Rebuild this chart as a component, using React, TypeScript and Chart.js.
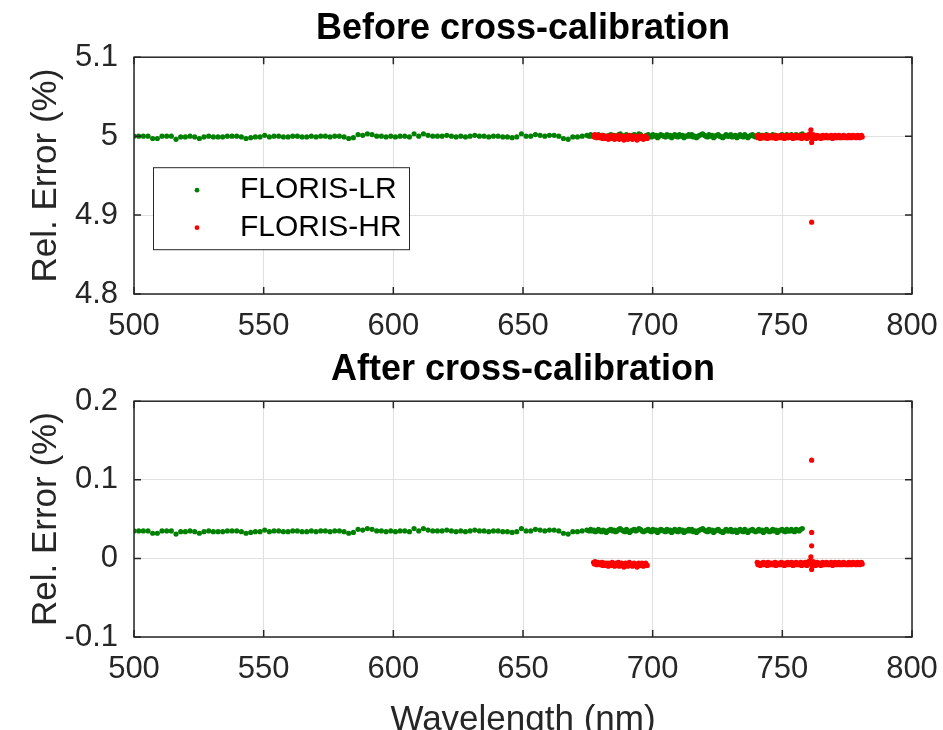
import { useEffect, useRef } from "react";
import { Chart, registerables } from "chart.js";

Chart.register(...registerables);

const FONT = '"Liberation Sans", Arial, Helvetica, sans-serif';
const AXIS_COLOR = "#262626";
const GRID_COLOR = "#e0e0e0";
const LR_COLOR = "#008000";
const HR_COLOR = "#ff0000";

// Axis ticks
const xTicks = [500, 550, 600, 650, 700, 750, 800];
const yTicksBefore = [4.8, 4.9, 5, 5.1];
const yTicksAfter = [-0.1, 0, 0.1, 0.2];

// Wavelength sampling of each record (nm)
const lrSparseStart = 500;
const lrSparseStep = 1.8;
const lrDenseStart = 675.5;
const lrDenseStep = 0.6;
const hrAStart = 677.2;
const hrBStart = 740.3;
const hrStep = 0.3;

// Residual deviations per sample, in units of 0.001 %
const lrSparseDev = [
  0, 0, 0, 0, -3, -3, 0, 0, 0, -4,
  -1, -1, 0, -1, -3, -1, 0, -1, -1, -1,
  0, 0, 0, -1, -3, -2, -1, -1, 1, -1,
  0, 0, -1, -1, 0, 0, -1, -1, 0, -1,
  0, 0, -1, 0, 0, -1, -3, -2, 2, 1,
  3, 2, 0, 0, -1, 0, -1, 0, 0, -1,
  3, 0, 3, 1, 0, 0, 0, 1, 0, -1,
  0, -1, 0, 1, 0, 0, -1, 0, 0, -1,
  -1, -2, -1, 3, 0, 0, 2, 1, 0, 1,
  1, 0, -3, -4, -1, -1, 0, 1,
];

const lrDenseDev = [
  0, 2, 0, 1, -1, 0, 2, 0, -1, 1,
  0, -2, 0, 1, 2, 0, 1, -1, 0, 2,
  3, 1, 0, -1, 2, 0, -2, 0, 1, 2,
  0, 1, 3, 2, 0, -1, 0, 1, 2, 0,
  -1, 2, 0, 1, -2, 0, 2, 1, 0, -1,
  2, 0, 1, -2, 0, 2, 0, -1, 2, 0,
  1, -2, 0, 0, 2, 0, 2, -1, 0, -2,
  0, 1, 2, 3, 1, 0, -1, 2, 0, 1,
  -2, 0, 1, 2, 0, -1, -2, 0, 2, 0,
  0, 2, -1, 0, 1, -2, 0, 2, 0, -1,
  2, 0, -2, 0, 1, 2, 0, -1, 0, 2,
  0, 1, -2, 0, 2, 0, -1, 0, 2, 0,
  1, -2, 0, 1, 2, 0, -1, 2, 0, 0,
  2, 0, -1, 2, 1, 0, 2, 3,
];

const hrADev = [
  1, -1, 2, 0, -2, 0, 1, -1, -2, 0,
  -2, 1, -3, -1, 0, -2, -3, 0, -1, -4,
  0, -2, -3, -1, 1, -3, -2, -4, -1, 0,
  -3, -1, 1, -4, -2, -1, 0, -3, -2, -5,
  -1, 0, -3, -2, -4, -3, 1, -1, -3, -2,
  -4, -1, 0, -3, -2, -3, -5, -1, 0, -3,
  -2, -3, 0, -1, -4, -1, -3, 0, -2, -3,
];

const hrBDev = [
  1, -2, 0, -1, -3, -1, 0, -2, 1, -1,
  -2, 0, -1, -3, 1, -1, -2, 0, -1, -2,
  0, -2, -1, 1, -3, -1, 0, -2, -1, 0,
  -2, 1, -1, -2, 0, -3, -1, 0, -2, 1,
  -1, -2, 0, -1, 1, -2, -3, 0, -1, -2,
  1, -1, -2, 0, -1, -2, 1, -3, -1, 0,
  -2, 0, 1, -2, -3, 0, 2, -1, 3, 8,
  -8, -3, 2, -1, 0, -3, -1, 1, -2, -1,
  0, -2, -3, -1, 1, -1, -2, 0, -1, 1,
  -2, -1, 0, -2, -1, 1, -1, -3, 0, -1,
  1, -1, -2, 0, -1, 1, -2, -1, 0, -2,
  -1, 1, -1, 0, -2, -1, 0, -2, 1, -1,
  0, -2, -1, 1, -1, 0, 0, -2, -1, 1,
  -1, 0, -2, 0, 1, -1,
];

// Levels of each record before and after cross-calibration (%)
const lrLevelBefore = 5.0;
const hrLevelBefore = 5.0;
const lrLevelAfter = 0.035;
const hrLevelAfter = -0.006;

// Isolated HR samples at the O2-A line
const hrSpikeWl = 761.3;
const hrSpikeBefore = [4.891];
const hrSpikeAfter = [0.125, 0.033, 0.016];

type Pt = { x: number; y: number };

function toPoints(devs: number[], start: number, step: number, level: number): Pt[] {
  return devs.map((d, i) => ({
    x: +(start + i * step).toFixed(2),
    y: +(level + d / 1000).toFixed(4),
  }));
}

function lrPoints(level: number): Pt[] {
  return [
    ...toPoints(lrSparseDev, lrSparseStart, lrSparseStep, level),
    ...toPoints(lrDenseDev, lrDenseStart, lrDenseStep, level),
  ];
}

function hrPoints(level: number, spikes: number[]): Pt[] {
  return [
    ...toPoints(hrADev, hrAStart, hrStep, level),
    ...toPoints(hrBDev, hrBStart, hrStep, level),
    ...spikes.map((v) => ({ x: hrSpikeWl, y: v })),
  ];
}

// Closed axes box with inward tick marks on all four sides
const framePlugin = {
  id: "frame",
  afterDraw(chart: any) {
    const { ctx, chartArea: a, scales } = chart;
    const len = 7;
    ctx.save();
    ctx.strokeStyle = AXIS_COLOR;
    ctx.lineWidth = 1.5;
    ctx.strokeRect(a.left, a.top, a.right - a.left, a.bottom - a.top);
    ctx.beginPath();
    for (const t of scales.x.ticks) {
      const px = scales.x.getPixelForValue(t.value);
      ctx.moveTo(px, a.bottom);
      ctx.lineTo(px, a.bottom - len);
      ctx.moveTo(px, a.top);
      ctx.lineTo(px, a.top + len);
    }
    for (const t of scales.y.ticks) {
      const py = scales.y.getPixelForValue(t.value);
      ctx.moveTo(a.left, py);
      ctx.lineTo(a.left + len, py);
      ctx.moveTo(a.right, py);
      ctx.lineTo(a.right - len, py);
    }
    ctx.stroke();
    ctx.restore();
  },
};

// Boxed legend inside the axes
const boxLegendPlugin = {
  id: "boxLegend",
  afterDraw(chart: any) {
    const { ctx, chartArea: a } = chart;
    const x = a.left + 19;
    const y = a.top + 110;
    const w = 256;
    const h = 82;
    ctx.save();
    ctx.fillStyle = "#ffffff";
    ctx.fillRect(x, y, w, h);
    ctx.strokeStyle = AXIS_COLOR;
    ctx.lineWidth = 1;
    ctx.strokeRect(x + 0.5, y + 0.5, w, h);
    ctx.font = `30px ${FONT}`;
    ctx.textBaseline = "middle";
    ctx.textAlign = "left";
    chart.data.datasets.forEach((ds: any, i: number) => {
      const ry = y + 23 + i * 37.5;
      ctx.fillStyle = ds.backgroundColor;
      ctx.beginPath();
      ctx.arc(x + 44, ry, 2.4, 0, Math.PI * 2);
      ctx.fill();
      ctx.fillStyle = "#000000";
      ctx.fillText(ds.label, x + 87, ry);
    });
    ctx.restore();
  },
};

type PanelProps = {
  title: string;
  yTicks: number[];
  lr: Pt[];
  hr: Pt[];
  top: number;
  height: number;
  areaBottom: number;
  titlePad: { top: number; bottom: number };
  legend: boolean;
  xTitle: boolean;
};

function Panel(p: PanelProps) {
  const ref = useRef<HTMLCanvasElement | null>(null);

  useEffect(() => {
    if (!ref.current) return;
    const tickFont = { family: FONT, size: 31 };
    const labelFont = { family: FONT, size: 35 };
    const chart = new Chart(ref.current, {
      type: "scatter",
      data: {
        datasets: [
          {
            label: "FLORIS-LR",
            data: p.lr,
            backgroundColor: LR_COLOR,
            borderWidth: 0,
            pointRadius: 2.6,
            pointHoverRadius: 2.6,
            order: 2,
          },
          {
            label: "FLORIS-HR",
            data: p.hr,
            backgroundColor: HR_COLOR,
            borderWidth: 0,
            pointRadius: 2.6,
            pointHoverRadius: 2.6,
            order: 1,
          },
        ],
      },
      options: {
        animation: false,
        responsive: false,
        maintainAspectRatio: false,
        devicePixelRatio: 1,
        events: [],
        layout: { padding: { left: 0, right: 31, top: 0, bottom: 0 } },
        plugins: {
          legend: { display: false },
          tooltip: { enabled: false },
          title: {
            display: true,
            text: p.title,
            fullSize: false,
            color: "#000000",
            font: { family: FONT, size: 36, weight: "bold", lineHeight: 1.2 },
            padding: p.titlePad,
          },
        },
        scales: {
          x: {
            type: "linear",
            position: "bottom",
            min: xTicks[0],
            max: xTicks[xTicks.length - 1],
            afterBuildTicks: (s: any) => {
              s.ticks = xTicks.map((v) => ({ value: v }));
            },
            afterFit: (s: any) => {
              s.height = p.height - p.areaBottom;
              s.paddingLeft = 0;
              s.paddingRight = 0;
            },
            grid: { color: GRID_COLOR, lineWidth: 1, drawTicks: false },
            border: { display: false },
            ticks: {
              font: tickFont,
              color: AXIS_COLOR,
              padding: 14,
              maxRotation: 0,
              autoSkip: false,
              callback: (v: any) => String(v),
            },
            title: {
              display: p.xTitle,
              text: "Wavelength (nm)",
              color: AXIS_COLOR,
              font: labelFont,
              padding: { top: 0, bottom: 3.4 },
            },
          },
          y: {
            type: "linear",
            min: p.yTicks[0],
            max: p.yTicks[p.yTicks.length - 1],
            afterBuildTicks: (s: any) => {
              s.ticks = p.yTicks.map((v) => ({ value: v }));
            },
            afterFit: (s: any) => {
              s.width = 134;
              s.paddingTop = 0;
              s.paddingBottom = 0;
            },
            grid: { color: GRID_COLOR, lineWidth: 1, drawTicks: false },
            border: { display: false },
            ticks: {
              font: tickFont,
              color: AXIS_COLOR,
              padding: 16,
              autoSkip: false,
              callback: (v: any) => String(v),
            },
            title: {
              display: true,
              text: "Rel. Error (%)",
              color: AXIS_COLOR,
              font: labelFont,
              padding: { top: 25, bottom: 0 },
            },
          },
        },
      },
      plugins: p.legend ? [framePlugin, boxLegendPlugin] : [framePlugin],
    } as any);
    return () => chart.destroy();
  }, []);

  return (
    <canvas
      ref={ref}
      width={943}
      height={p.height}
      style={{ position: "absolute", left: 0, top: p.top, width: 943, height: p.height }}
    />
  );
}

export default function App() {
  return (
    <div
      style={{
        position: "absolute",
        left: 0,
        top: 0,
        width: 943,
        height: 730,
        overflow: "hidden",
        background: "#ffffff",
      }}
    >
      <Panel
        title="Before cross-calibration"
        yTicks={yTicksBefore}
        lr={lrPoints(lrLevelBefore)}
        hr={hrPoints(hrLevelBefore, hrSpikeBefore)}
        top={0}
        height={345}
        areaBottom={294}
        titlePad={{ top: 7.9, bottom: 6.1 }}
        legend={true}
        xTitle={false}
      />
      <Panel
        title="After cross-calibration"
        yTicks={yTicksAfter}
        lr={lrPoints(lrLevelAfter)}
        hr={hrPoints(hrLevelAfter, hrSpikeAfter)}
        top={340}
        height={405}
        areaBottom={297}
        titlePad={{ top: 8.9, bottom: 9.1 }}
        legend={false}
        xTitle={true}
      />
    </div>
  );
}
